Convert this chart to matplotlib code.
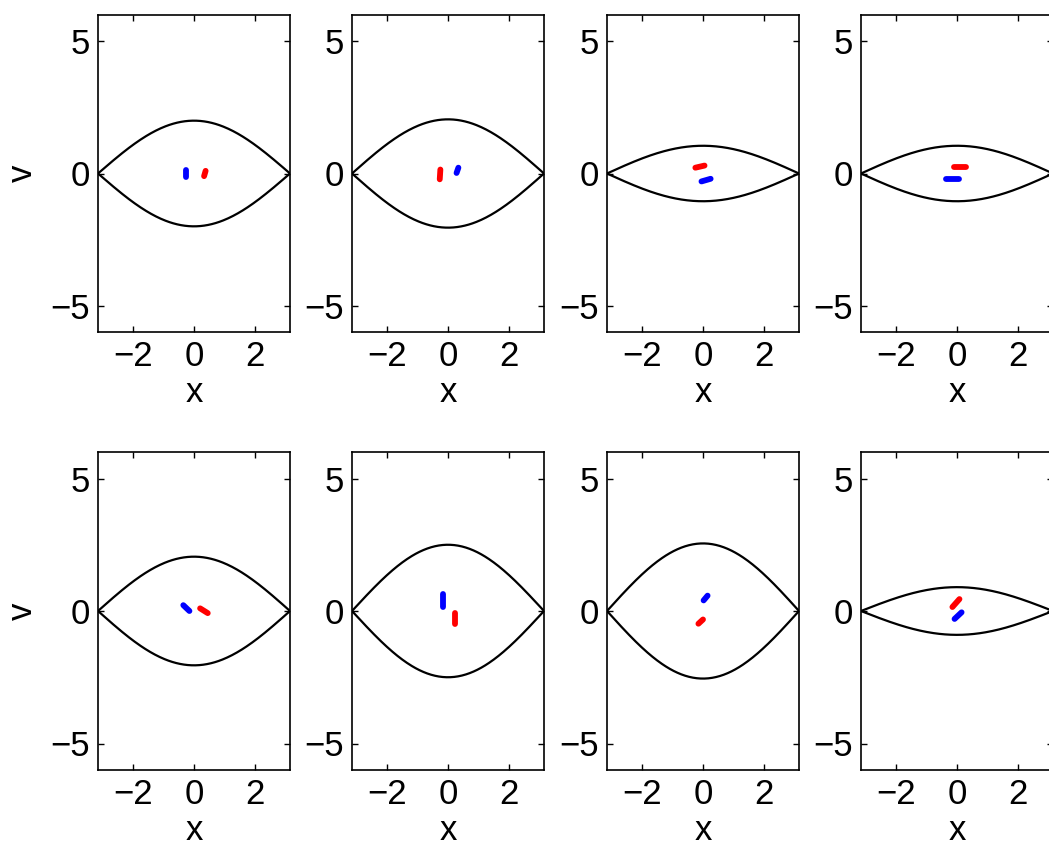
import matplotlib
matplotlib.use('Agg')
from matplotlib import pyplot as plt
import numpy as np

plt.rcParams['font.family'] = ['Liberation Sans', 'DejaVu Sans']

# separatrix half-height at x = 0 for each panel (row by row)
amp = [2.0, 2.05, 1.05, 1.05, 2.05, 2.5, 2.55, 0.9]

# particle clusters: (x, v) end points of each short streak
blue_x = [[-0.27, -0.27], [0.28, 0.34], [-0.05, 0.25], [-0.35, 0.05],
          [-0.35, -0.15], [-0.17, -0.17], [0.02, 0.15], [-0.08, 0.15]]
blue_v = [[-0.15, 0.15], [0.02, 0.22], [-0.3, -0.2], [-0.22, -0.22],
          [0.22, 0.0], [0.15, 0.65], [0.4, 0.58], [-0.3, -0.05]]
red_x = [[0.33, 0.38], [-0.27, -0.25], [-0.25, 0.05], [-0.1, 0.28],
         [0.2, 0.45], [0.22, 0.22], [-0.15, 0.0], [-0.15, 0.08]]
red_v = [[-0.1, 0.1], [-0.22, 0.15], [0.22, 0.3], [0.25, 0.25],
         [0.1, -0.08], [-0.48, -0.08], [-0.48, -0.32], [0.15, 0.45]]

W, H = 1049, 859
fig = plt.figure(figsize=(W / 100, H / 100), dpi=100)

lefts = [98, 352, 607, 861]
rows = [(15, 332), (452, 770)]
pw = 192

xs = np.linspace(-np.pi, np.pi, 200)

for i in range(8):
    r, c = divmod(i, 4)
    top, bot = rows[r]
    ax = fig.add_axes([lefts[c] / W, 1 - bot / H, pw / W, (bot - top) / H])
    sep = amp[i] * np.cos(xs / 2)
    ax.plot(xs, sep, color='k', lw=1.6)
    ax.plot(xs, -sep, color='k', lw=1.6)
    ax.plot(blue_x[i], blue_v[i], color='b', lw=4.2, solid_capstyle='round')
    ax.plot(red_x[i], red_v[i], color='r', lw=4.2, solid_capstyle='round')
    ax.set_xlim(-np.pi, np.pi)
    ax.set_ylim(-6, 6)
    ax.set_xticks([-2, 0, 2])
    ax.set_yticks([-5, 0, 5])
    ax.tick_params(direction='in', length=4, width=1, top=True, right=True,
                   labelsize=25, pad=6)
    for s in ax.spines.values():
        s.set_linewidth(1.2)
    ax.set_xlabel('x', fontsize=25, labelpad=2)
    if c == 0:
        ax.set_ylabel('v', fontsize=25, labelpad=8)

plt.savefig('out.png', dpi=100)
